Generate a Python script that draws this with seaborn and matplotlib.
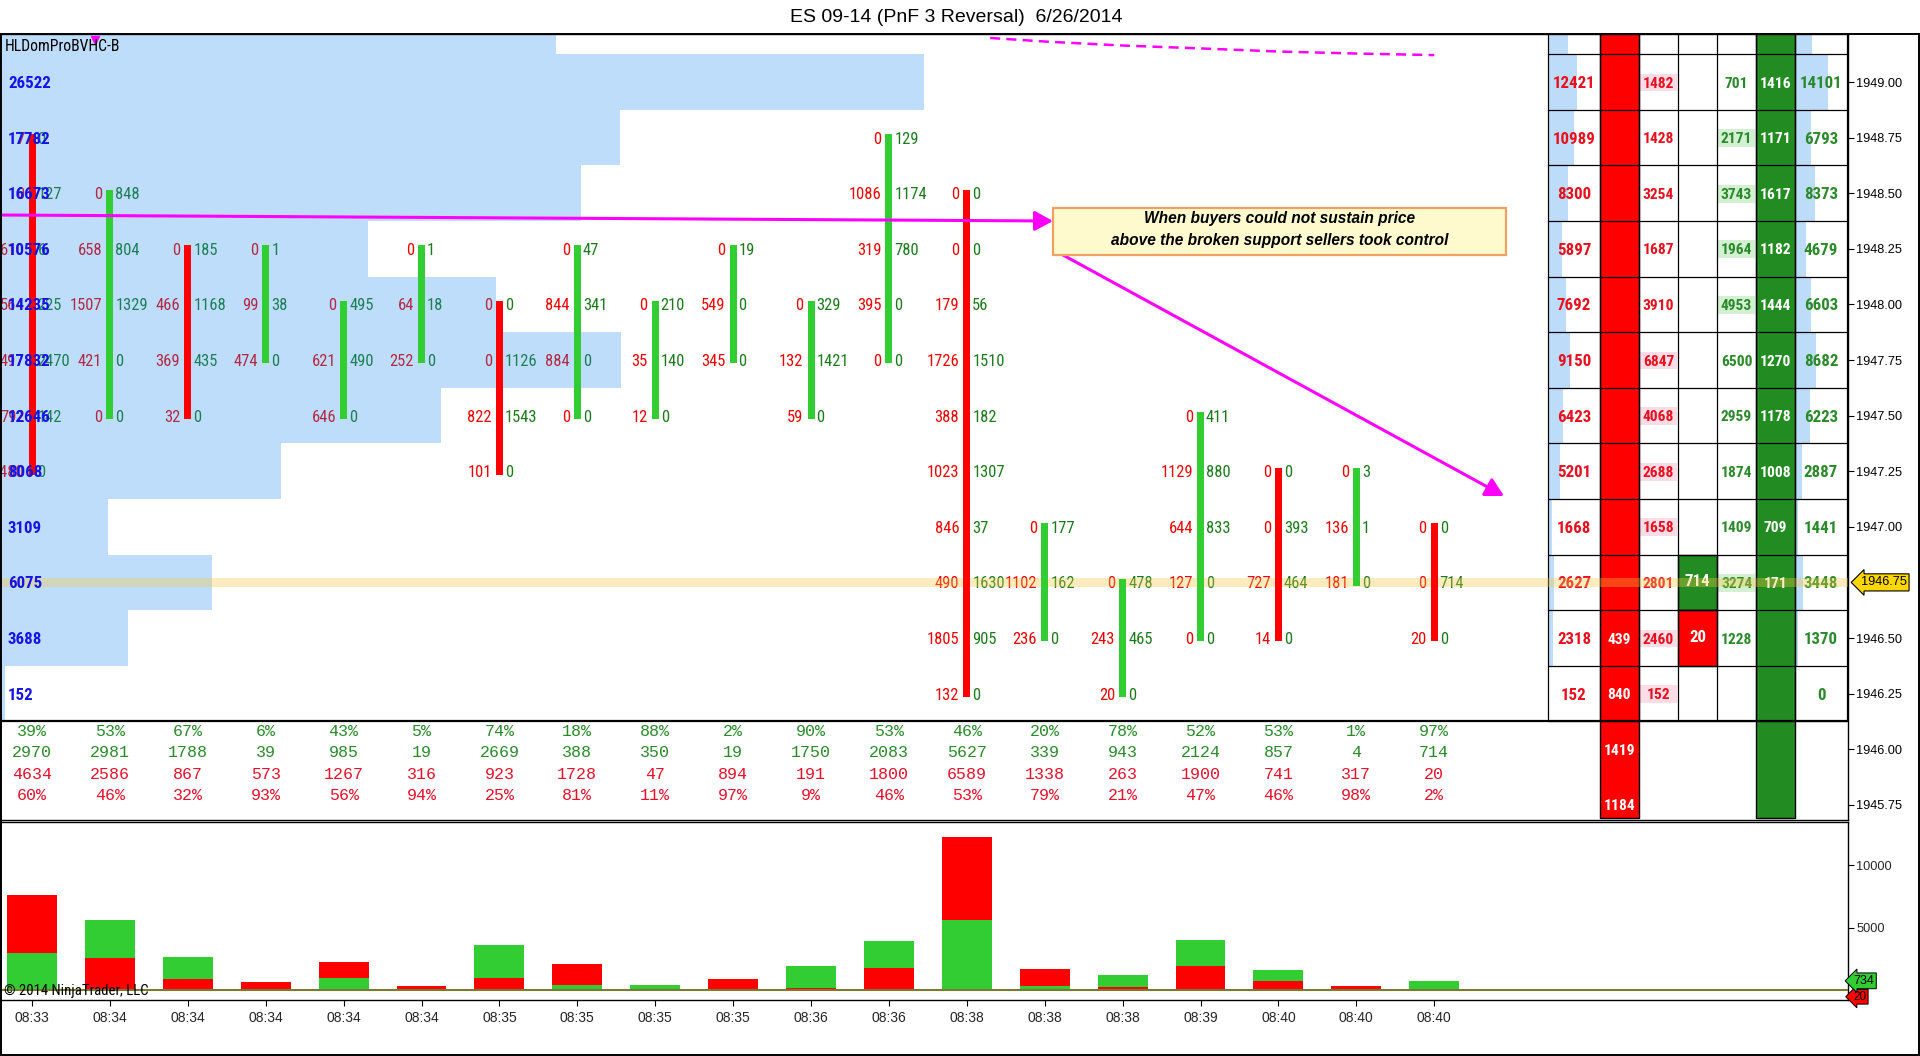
import numpy as np
import pandas as pd
import matplotlib
matplotlib.use("Agg")
import matplotlib.pyplot as plt
import seaborn as sns
from matplotlib import font_manager
from matplotlib.patches import Rectangle

# ---------------- data ----------------
times = ['08:33', '08:34', '08:34', '08:34', '08:34', '08:34', '08:35', '08:35', '08:35', '08:35',
         '08:36', '08:36', '08:38', '08:38', '08:38', '08:39', '08:40', '08:40', '08:40']
col_dir = ['down', 'up', 'down', 'up', 'up', 'up', 'down', 'up', 'up', 'up',
           'up', 'up', 'down', 'up', 'up', 'up', 'down', 'up', 'down']
col_high = [1948.75, 1948.50, 1948.25, 1948.25, 1948.00, 1948.25, 1948.00, 1948.25, 1948.00, 1948.25,
            1948.00, 1948.75, 1948.50, 1947.00, 1946.75, 1947.50, 1947.25, 1947.25, 1947.00]
col_sell = [[7, 0, 610, 564, 497, 792, 1480], [0, 658, 1507, 421, 0], [0, 466, 369, 32], [0, 99, 474],
            [0, 621, 646], [0, 64, 252], [0, 0, 822, 101], [0, 844, 884, 0], [0, 35, 12], [0, 549, 345],
            [0, 132, 59], [0, 1086, 319, 395, 0], [0, 0, 179, 1726, 388, 1023, 846, 490, 1805, 132],
            [0, 1102, 236], [0, 243, 20], [0, 1129, 644, 127, 0], [0, 0, 727, 14], [0, 136, 181], [0, 0, 20]]
col_buy = [[0, 127, 6, 225, 2470, 142, 0], [848, 804, 1329, 0, 0], [185, 1168, 435, 0], [1, 38, 0],
           [495, 490, 0], [1, 18, 0], [0, 1126, 1543, 0], [47, 341, 0, 0], [210, 140, 0], [19, 0, 0],
           [329, 1421, 0], [129, 1174, 780, 0, 0], [0, 0, 56, 1510, 182, 1307, 37, 1630, 905, 0],
           [177, 162, 0], [478, 465, 0], [411, 880, 833, 0, 0], [0, 393, 464, 0], [3, 1, 0], [0, 714, 0]]

buy_pct = [39, 53, 67, 6, 43, 5, 74, 18, 88, 2, 90, 53, 46, 20, 78, 52, 53, 1, 97]
buy_vol = [2970, 2981, 1788, 39, 985, 19, 2669, 388, 350, 19, 1750, 2083, 5627, 339, 943, 2124, 857, 4, 714]
sell_vol = [4634, 2586, 867, 573, 1267, 316, 923, 1728, 47, 894, 191, 1800, 6589, 1338, 263, 1900, 741, 317, 20]
sell_pct = [60, 46, 32, 93, 56, 94, 25, 81, 11, 97, 9, 46, 53, 79, 21, 47, 46, 98, 2]

profile_prices = [1949.25, 1949.00, 1948.75, 1948.50, 1948.25, 1948.00, 1947.75, 1947.50,
                  1947.25, 1947.00, 1946.75, 1946.50, 1946.25]
profile_vol = [15950, 26522, 17782, 16673, 10576, 14235, 17832, 12646, 8068, 3109, 6075, 3688, 152]

dom_prices = profile_prices
bid_total = [8600, 12421, 10989, 8300, 5897, 7692, 9150, 6423, 5201, 1668, 2627, 2318, 152]
ask_total = [7100, 14101, 6793, 8373, 4679, 6603, 8682, 6223, 2887, 1441, 3448, 1370, 0]
bid_at = [None, 1482, 1428, 3254, 1687, 3910, 6847, 4068, 2688, 1658, 2801, 2460, 152]
bid_hl = [0, 1, 0, 0, 0, 0, 1, 1, 1, 1, 0, 1, 1]
ask_at = [None, 701, 2171, 3743, 1964, 4953, 6500, 2959, 1874, 1409, 3274, 1228, None]
ask_hl = [0, 0, 1, 1, 1, 1, 0, 0, 0, 0, 1, 0, 0]
ask_ladder_prices = [1949.00, 1948.75, 1948.50, 1948.25, 1948.00, 1947.75, 1947.50, 1947.25, 1947.00, 1946.75]
ask_ladder = [1416, 1171, 1617, 1182, 1444, 1270, 1178, 1008, 709, 171]
bid_ladder_prices = [1946.50, 1946.25, 1946.00, 1945.75]
bid_ladder = [439, 840, 1419, 1184]
last_prices = [1946.75, 1946.50]
last_vals = [714, 20]
last_side = ['buy', 'sell']

current_price = 1946.75
ma_x = [12.3, 13, 14, 15, 16, 17, 18]
ma_y = [1949.198, 1949.182, 1949.164, 1949.151, 1949.137, 1949.128, 1949.121]

title = 'ES 09-14 (PnF 3 Reversal)  6/26/2014'
note = 'When buyers could not sustain price\nabove the broken support sellers took control'

# ---------------- fonts ----------------
sns.set_theme(style='white')
avail = {f.name for f in font_manager.fontManager.ttflist}
NF, NS = None, 1.0
for name, ns in [('Liberation Sans Narrow', 1.0), ('Arial Narrow', 1.0), ('Roboto Condensed', 0.97),
                 ('DejaVu Sans Condensed', 0.92), ('Noto Sans Condensed', 0.95)]:
    if name in avail:
        NF, NS = dict(family=name), ns
        break
if NF is None:
    for f in font_manager.fontManager.ttflist:
        if f.name in ('Roboto', 'Noto Sans', 'DejaVu Sans') and 'condensed' in str(f.stretch) \
                and 'semi' not in str(f.stretch) and 'extra' not in str(f.stretch):
            NF, NS = dict(family=f.name, fontstretch='condensed'), (0.92 if f.name == 'DejaVu Sans' else 0.96)
            break
if NF is None:
    NF, NS = dict(family='Liberation Sans'), 0.9
MONO = 'Liberation Mono' if 'Liberation Mono' in avail else 'DejaVu Sans Mono'
plt.rcParams['font.family'] = ['Liberation Sans', 'DejaVu Sans']

# ---------------- layout helpers (pixels of the 1920x1056 canvas) ----------------
W, H = 1920, 1056
AX_R = 1848
AX_T, AX_B = 34, 820
VOL_T, VOL_B = 822, 1000
COL0_PX, COL_PX = 32.0, 77.9


def px2x(px):
    return (px - COL0_PX) / COL_PX


def py2p(py):
    return 1949.00 - (py - 82.0) / 55.6 * 0.25


SELL_C = '#F00000'
BUY_C = '#1A7A1A'
RED = '#FF0000'
LIME = '#32CD32'
DKGREEN = '#228B22'
MAGENTA = '#FF00FF'

fig = plt.figure(figsize=(W / 100, H / 100), dpi=100, facecolor='white')
ax = fig.add_axes([0, 1 - AX_B / H, AX_R / W, (AX_B - AX_T) / H])
axv = fig.add_axes([0, 1 - VOL_B / H, AX_R / W, (VOL_B - VOL_T) / H])

XMIN, XMAX = px2x(0), px2x(AX_R)
ax.set_xlim(XMIN, XMAX)
ax.set_ylim(py2p(AX_B), py2p(AX_T))

# ---------------- volume profile (translucent overlay) ----------------
pmax = max(profile_vol)
prof_w = [v / pmax * 0.5 * (XMAX - XMIN) for v in profile_vol]
ax.barh(profile_prices, prof_w, left=XMIN, height=0.25, color=(31 / 255, 138 / 255, 238 / 255),
        alpha=0.29, zorder=3, linewidth=0)
for p, v in zip(profile_prices, profile_vol):
    ax.text(px2x(8), p, str(v), color='#1414E6', fontsize=12.5 * NS, fontweight='bold',
            ha='left', va='center_baseline', zorder=6, clip_on=True, **NF)

# ---------------- PnF columns ----------------
BAR_W = 7 / COL_PX
for i in range(len(times)):
    n = len(col_sell[i])
    hi = col_high[i]
    lo = hi - 0.25 * (n - 1)
    c = RED if col_dir[i] == 'down' else LIME
    ax.bar(i, hi - lo + 0.03, bottom=lo - 0.015, width=BAR_W, color=c, linewidth=0, zorder=5)
    for k in range(n):
        p = hi - 0.25 * k
        ax.text(i - BAR_W / 2 - 4 / COL_PX, p, str(col_sell[i][k]), ha='right', va='center_baseline',
                color=SELL_C, fontsize=12.3 * NS, zorder=2, **NF)
        ax.text(i + BAR_W / 2 + 2 / COL_PX, p, str(col_buy[i][k]), ha='left', va='center_baseline',
                color=BUY_C, fontsize=12.3 * NS, zorder=2, **NF)

# ---------------- stats rows ----------------
stat_rows = [(buy_pct, '%', '#2A8A2A', 731), (buy_vol, '', '#2A8A2A', 752),
             (sell_vol, '', '#E8102A', 774), (sell_pct, '%', '#E8102A', 795)]
for vals, suf, colr, py in stat_rows:
    for i, v in enumerate(vals):
        ax.text(i, py2p(py), f'{v}{suf}', ha='center', va='center', color=colr,
                fontsize=12 * (1.0 if MONO == 'Liberation Mono' else 0.95), family=MONO, zorder=4)
ax.axhline(1946.125, color='black', lw=1.6, zorder=4.2)

# ---------------- DOM ladder on the right ----------------
cb = [px2x(v) for v in (1548, 1600, 1639, 1678, 1717, 1756, 1795, 1847)]
cc = [(cb[j] + cb[j + 1]) / 2 for j in range(7)]
cw = [cb[j + 1] - cb[j] for j in range(7)]
ytop = py2p(AX_T)
ybot_bar = py2p(818)
for j, (p, bt, at) in enumerate(zip(dom_prices, bid_total, ask_total)):
    ax.add_patch(Rectangle((cb[0], p - 0.125), bt / 22000 * cw[0], 0.25, fc='#BDDCF9', ec='none', zorder=1.5))
    ax.add_patch(Rectangle((cb[6], p - 0.125), at / 22000 * cw[6], 0.25, fc='#BDDCF9', ec='none', zorder=1.5))
    ax.text(cc[0], p, str(bt), ha='center', va='center_baseline', color='#E8101E', fontsize=12.5 * NS,
            fontweight='bold', zorder=4, clip_on=True, **NF)
    ax.text(cc[6], p, str(at), ha='center', va='center_baseline', color='#2A8A2A', fontsize=12.5 * NS,
            fontweight='bold', zorder=4, clip_on=True, **NF)
    if bid_at[j] is not None:
        if bid_hl[j]:
            ax.add_patch(Rectangle((cb[2] + 0.01, p - 0.042), cw[2] - 0.02, 0.08, fc='#FCDDE7', ec='none', zorder=1.5))
        ax.text(cc[2], p, str(bid_at[j]), ha='center', va='center_baseline', color='#E8101E',
                fontsize=11.5 * NS, fontweight='bold', zorder=4, clip_on=True, **NF)
    if ask_at[j] is not None:
        if ask_hl[j]:
            ax.add_patch(Rectangle((cb[4] + 0.01, p - 0.042), cw[4] - 0.02, 0.08, fc='#D3F0D3', ec='none', zorder=1.5))
        ax.text(cc[4], p, str(ask_at[j]), ha='center', va='center_baseline', color='#2A8A2A',
                fontsize=11.5 * NS, fontweight='bold', zorder=4, clip_on=True, **NF)

ax.add_patch(Rectangle((cb[1], ybot_bar), cw[1], ytop - ybot_bar, fc=RED, ec='black', lw=1, zorder=3))
ax.add_patch(Rectangle((cb[5], ybot_bar), cw[5], ytop - ybot_bar, fc=DKGREEN, ec='black', lw=1, zorder=3))
for p, v in zip(ask_ladder_prices, ask_ladder):
    ax.text(cc[5], p, str(v), ha='center', va='center_baseline', color='white', fontsize=11.5 * NS,
            fontweight='bold', zorder=4, **NF)
for p, v in zip(bid_ladder_prices, bid_ladder):
    ax.text(cc[1], p, str(v), ha='center', va='center_baseline', color='white', fontsize=11.5 * NS,
            fontweight='bold', zorder=4, **NF)
for p, v, s in zip(last_prices, last_vals, last_side):
    ax.add_patch(Rectangle((cb[3], p - 0.125), cw[3], 0.25, fc=DKGREEN if s == 'buy' else RED,
                           ec='black', lw=1, zorder=3))
    ax.text(cc[3], p + 0.01, str(v), ha='center', va='center_baseline', color='white', fontsize=12.5 * NS,
            fontweight='bold', zorder=4, **NF)

for b in np.arange(1946.125, 1949.2, 0.25):
    ax.plot([cb[0], cb[-1]], [b, b], color='black', lw=0.9, zorder=4.1)
ax.vlines(cb, 1946.125, ytop, color='black', lw=0.9, zorder=4.1)

# current price band
ax.axhspan(current_price - 0.02, current_price + 0.02, color='#F5C842', alpha=0.35, lw=0, zorder=4.5)

# ---------------- annotations ----------------
ax.text(px2x(5), py2p(46), 'HLDomProBVHC-B', ha='left', va='center', fontsize=11.6 * NS,
        color='black', zorder=8, **NF)
ax.plot(ma_x, ma_y, color=MAGENTA, lw=1.8, ls=(0, (4, 2.5)), zorder=7)
ax.plot([px2x(95)], [py2p(40)], marker='v', color=MAGENTA, ms=6, zorder=7, clip_on=False)

arrow_kw = dict(arrowstyle='-|>,head_length=0.55,head_width=0.3', color=MAGENTA, lw=2.2,
                shrinkA=0, shrinkB=0, mutation_scale=20)
ax.annotate('', xy=(px2x(1053), py2p(221)), xytext=(px2x(0), py2p(215)), arrowprops=arrow_kw, zorder=7)
ax.annotate('', xy=(px2x(1504), py2p(496)), xytext=(px2x(1063), py2p(255)), arrowprops=arrow_kw, zorder=7)

bx0, bx1, by0, by1 = px2x(1053), px2x(1506), py2p(255), py2p(208)
ax.add_patch(Rectangle((bx0, by0), bx1 - bx0, by1 - by0, fc='#FFFACD', ec='#F0A060', lw=1.6, zorder=8))
l1, l2 = note.split('\n')
ax.text((bx0 + bx1) / 2, py2p(219), l1, ha='center', va='center', fontsize=11.2, fontweight='bold',
        fontstyle='italic', color='black', zorder=9)
ax.text((bx0 + bx1) / 2, py2p(240), l2, ha='center', va='center', fontsize=11.2, fontweight='bold',
        fontstyle='italic', color='black', zorder=9)

# ---------------- price axis ----------------
levels = np.arange(1945.75, 1949.01, 0.25)
ax.yaxis.tick_right()
ax.set_yticks([lv for lv in levels if abs(lv - current_price) > 1e-6])
ax.set_yticklabels([f'{lv:.2f}' for lv in levels if abs(lv - current_price) > 1e-6])
ax.tick_params(axis='y', which='both', right=True, left=False, length=4, width=0.8, color='black',
               direction='out', labelsize=9.2, pad=2, labelcolor='black')
ax.set_xticks([])
ax.annotate(f'{current_price:.2f}', xy=(1.0, current_price), xycoords=('axes fraction', 'data'),
            xytext=(9, 0), textcoords='offset points', ha='left', va='center', fontsize=9.2, color='black',
            bbox=dict(boxstyle='larrow,pad=0.2', fc='#FFD700', ec='black', lw=0.8), annotation_clip=False)
for s in ax.spines.values():
    s.set_color('black')
    s.set_linewidth(1.0)

# ---------------- volume panel ----------------
vol_df = pd.DataFrame({'pos': np.arange(len(times)), 'buy': buy_vol, 'sell': sell_vol})
vol_df['total'] = vol_df['buy'] + vol_df['sell']
vol_df['small'] = vol_df[['buy', 'sell']].min(axis=1)
vol_df['big_side'] = np.where(vol_df['buy'] >= vol_df['sell'], 'buy', 'sell')
vol_df['small_side'] = np.where(vol_df['buy'] >= vol_df['sell'], 'sell', 'buy')
pal = {'buy': LIME, 'sell': RED}
sns.barplot(data=vol_df, x='pos', y='total', hue='big_side', palette=pal, native_scale=True, dodge=False,
            width=0.64, errorbar=None, legend=False, saturation=1, linewidth=0, ax=axv, zorder=2)
sns.barplot(data=vol_df, x='pos', y='small', hue='small_side', palette=pal, native_scale=True, dodge=False,
            width=0.64, errorbar=None, legend=False, saturation=1, linewidth=0, ax=axv, zorder=3)
axv.set_xlim(XMIN, XMAX)
axv.set_ylim(-(VOL_B - 990) * 80, (990 - VOL_T) * 80)
axv.axhline(0, color='#7A7A30', lw=1.5, zorder=4)
axv.set_xlabel('')
axv.set_ylabel('')
axv.yaxis.tick_right()
axv.set_yticks([5000, 10000])
axv.set_yticklabels(['5000', '10000'])
axv.set_xticks(np.arange(len(times)))
axv.set_xticklabels(times)
axv.tick_params(axis='y', right=True, left=False, length=4, width=0.8, color='black', direction='out',
                labelsize=9.2, pad=2)
axv.tick_params(axis='x', bottom=True, length=4, width=0.8, color='black', direction='out',
                labelsize=10, pad=4)
for s in axv.spines.values():
    s.set_color('black')
    s.set_linewidth(1.0)
axv.text(px2x(4), -80, '\u00a9 2014 NinjaTrader, LLC', ha='left', va='center', fontsize=11 * NS,
         color='black', zorder=6, **NF)
axv.annotate('20', xy=(1.0, 20), xycoords=('axes fraction', 'data'), xytext=(4, -5),
             textcoords='offset points', ha='left', va='center', fontsize=8.5, color='black',
             bbox=dict(boxstyle='larrow,pad=0.12', fc=RED, ec='black', lw=0.7), annotation_clip=False)
axv.annotate(str(buy_vol[-1] + sell_vol[-1]), xy=(1.0, buy_vol[-1] + sell_vol[-1]),
             xycoords=('axes fraction', 'data'), xytext=(4, 0), textcoords='offset points', ha='left',
             va='center', fontsize=9, color='black',
             bbox=dict(boxstyle='larrow,pad=0.15', fc=LIME, ec='black', lw=0.7), annotation_clip=False)

# ---------------- frame and title ----------------
fig.add_artist(Rectangle((0.0005, 0.0008), 0.999, 1 - AX_T / H - 0.0008, transform=fig.transFigure,
                         fill=False, ec='black', lw=1.4))
fig.text(0.498, 1 - 17 / H, title, ha='center', va='center', fontsize=14, color='black')

fig.savefig('out.png', dpi=100, facecolor='white')
